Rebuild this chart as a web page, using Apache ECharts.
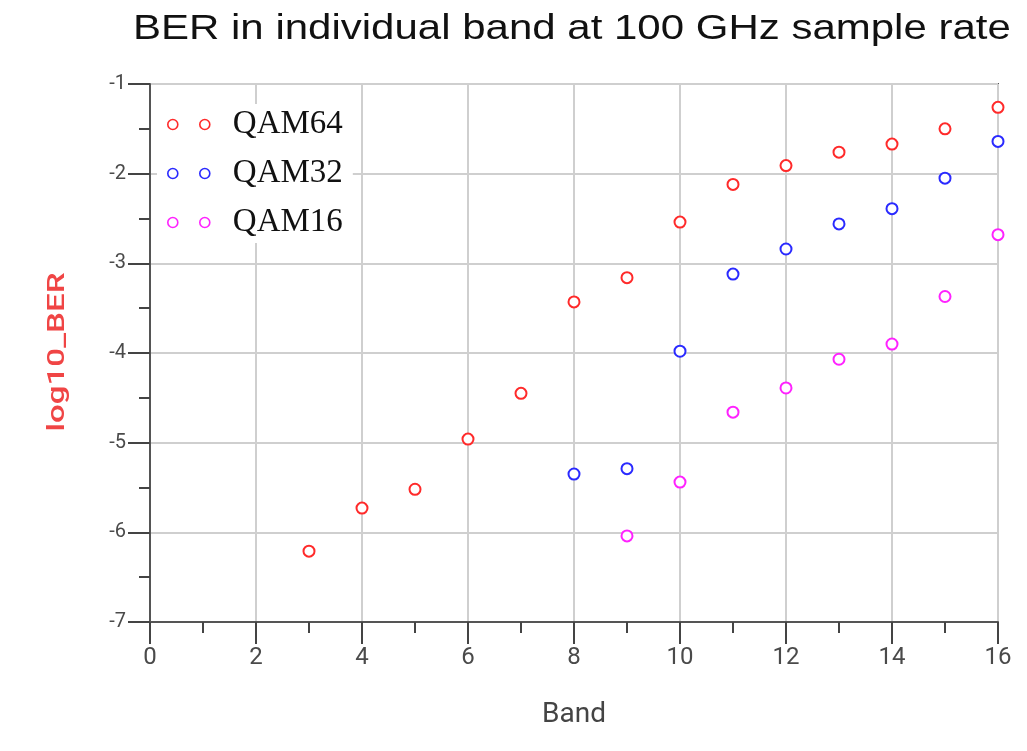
<!DOCTYPE html>
<html>
<head>
<meta charset="utf-8">
<script src="https://cdn.jsdelivr.net/npm/echarts@6/dist/echarts.min.js"></script>
<style>
  html, body { margin: 0; padding: 0; background: #fff; }
  #chart { width: 1027px; height: 751px; }
</style>
</head>
<body>
<div id="chart"></div>
<script>
// Band index for each measurement
const bandsQAM64 = [3, 4, 5, 6, 7, 8, 9, 10, 11, 12, 13, 14, 15, 16];
const bandsQAM32 = [8, 9, 10, 11, 12, 13, 14, 15, 16];
const bandsQAM16 = [9, 10, 11, 12, 13, 14, 15, 16];

// log10 of bit error rate per band
const berQAM64 = [-6.21, -5.73, -5.52, -4.96, -4.45, -3.43, -3.16, -2.54, -2.12, -1.91, -1.76, -1.67, -1.50, -1.26];
const berQAM32 = [-5.35, -5.29, -3.98, -3.12, -2.84, -2.56, -2.39, -2.05, -1.64];
const berQAM16 = [-6.04, -5.44, -4.66, -4.39, -4.07, -3.90, -3.37, -2.68];

const seriesNames = ['QAM64', 'QAM32', 'QAM16'];
const seriesColors = ['#ff2a2a', '#2a2aff', '#ff22ff'];

const titleText = 'BER in individual band at 100 GHz sample rate';
const yAxisTitle = 'log10_BER';

function pairs(xs, ys) { return xs.map((x, i) => [x, ys[i]]); }
const seriesData = [pairs(bandsQAM64, berQAM64), pairs(bandsQAM32, berQAM32), pairs(bandsQAM16, berQAM16)];

// Legend icon: two small hollow circles side by side
const twoRings = 'path://M5,0A5,5 0 1,1 5,10A5,5 0 1,1 5,0ZM37,0A5,5 0 1,1 37,10A5,5 0 1,1 37,0Z';

const chart = echarts.init(document.getElementById('chart'));
chart.setOption({
  animation: false,
  backgroundColor: '#fff',
  graphic: [
    {
      // chart title, drawn slightly widened
      type: 'text',
      x: 133, y: 29,
      scaleX: 1.2,
      style: {
        text: titleText,
        font: 'normal 35px "Liberation Sans", Arial, sans-serif',
        fill: '#111',
        align: 'left',
        verticalAlign: 'middle'
      }
    },
    {
      // vertical axis title
      type: 'text',
      x: 58, y: 352,
      rotation: Math.PI / 2,
      scaleX: 1.38,
      style: {
        text: yAxisTitle,
        font: '500 24px Roboto, sans-serif',
        fill: '#f04545',
        align: 'center',
        verticalAlign: 'middle'
      }
    }
  ],
  grid: {
    left: 150, right: 29, top: 84, bottom: 129,
    show: true, borderColor: '#555', borderWidth: 2, backgroundColor: 'transparent'
  },
  legend: {
    orient: 'vertical',
    left: 157, top: 104,
    padding: [4, 10, 4, 10],
    backgroundColor: '#fff',
    itemWidth: 42, itemHeight: 10,
    itemGap: 16,
    icon: twoRings,
    itemStyle: { color: '#fff', borderWidth: 1.6 },
    textStyle: { fontFamily: 'Liberation Serif, Times New Roman, serif', fontSize: 33, color: '#111', padding: [0, 0, 0, 18] },
    data: seriesNames
  },
  xAxis: {
    type: 'value', min: 0, max: 16, interval: 2,
    name: 'Band', nameLocation: 'middle', nameGap: 79,
    nameTextStyle: { fontFamily: 'Roboto, sans-serif', fontSize: 28, color: '#444' },
    axisLine: { onZero: false, lineStyle: { color: '#555', width: 2 } },
    axisTick: { length: 22, lineStyle: { color: '#444', width: 2 } },
    minorTick: { show: true, splitNumber: 2, length: 11, lineStyle: { color: '#444', width: 2 } },
    axisLabel: { margin: 24, fontFamily: 'Roboto, sans-serif', fontSize: 24, color: '#4a4a4a' },
    splitLine: { lineStyle: { color: '#cfcfcf', width: 2 } }
  },
  yAxis: {
    type: 'value', min: -7, max: -1, interval: 1,
    axisLine: { onZero: false, lineStyle: { color: '#555', width: 2 } },
    axisTick: { length: 22, lineStyle: { color: '#444', width: 2 } },
    minorTick: { show: true, splitNumber: 2, length: 11, lineStyle: { color: '#444', width: 2 } },
    axisLabel: { margin: 24, fontFamily: 'Roboto, sans-serif', fontSize: 20, color: '#4a4a4a' },
    splitLine: { lineStyle: { color: '#cfcfcf', width: 2 } }
  },
  series: seriesNames.map((name, i) => ({
    name: name,
    type: 'scatter',
    data: seriesData[i],
    symbol: 'circle',
    symbolSize: 11,
    itemStyle: { color: '#fff', borderColor: seriesColors[i], borderWidth: 2, opacity: 1 },
    z: 5
  }))
});
</script>
</body>
</html>
